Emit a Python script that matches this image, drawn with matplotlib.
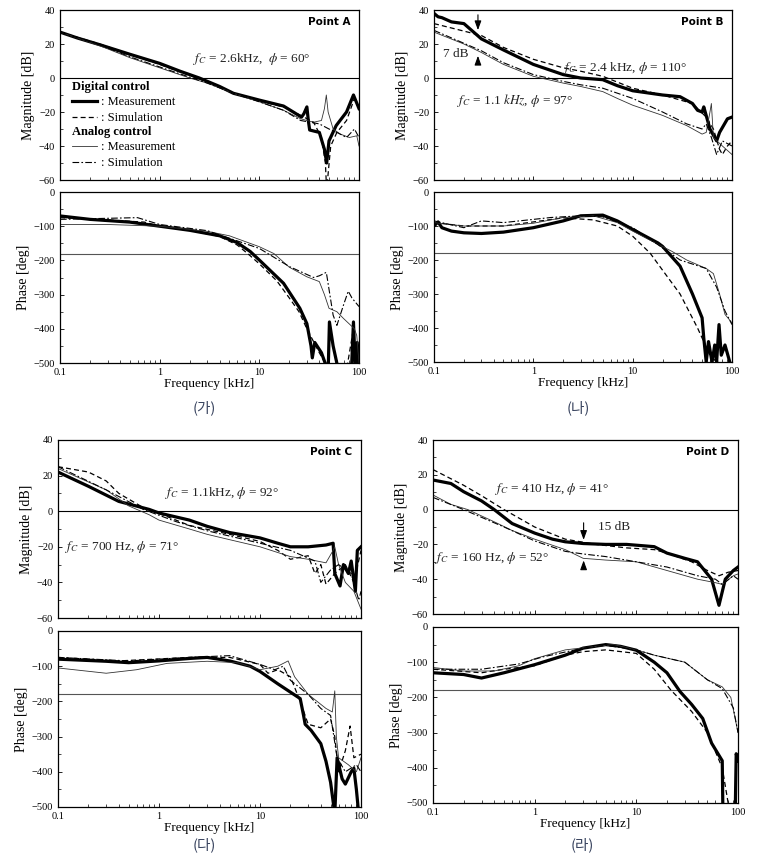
import numpy as np
import matplotlib
matplotlib.use("Agg")
import matplotlib.pyplot as plt
from matplotlib.lines import Line2D

plt.rcParams['font.family'] = ['Liberation Serif', 'DejaVu Serif']
plt.rcParams['mathtext.fontset'] = 'stix'

# ---- data: (frequency kHz, value) ----
# dm = digital measurement, ds = digital simulation,
# am = analog measurement, as = analog simulation

# Point A
A_mag_dm = [(0.1, 27), (0.15, 23.5), (0.25, 19.6), (0.5, 14), (1, 8.6), (1.6, 4), (2.5, 0), (4, -5), (5.5, -9),
            (10, -13), (17.5, -16.5), (26.5, -23), (28, -21), (30, -17), (31, -25), (32, -30.6), (40, -32),
            (45, -42), (47.4, -50), (50, -37), (59, -28), (75, -20), (88, -10), (100, -18)]
A_mag_ds = [(0.1, 27), (0.25, 20), (0.5, 14), (1, 8), (2.5, -0.5), (5.5, -9), (10, -13.5), (17.5, -17),
            (26, -22), (35, -26), (42, -35), (46, -50), (47, -62), (48, -62), (52, -40), (60, -32),
            (75, -25), (90, -12), (100, -18)]
A_mag_am = [(0.1, 27), (0.25, 19), (0.5, 12), (1, 6), (2, 0), (3, -3), (5.5, -9), (10, -14), (17.5, -19),
            (26, -24), (35, -26), (42, -25), (45, -18), (47, -10), (49, -20), (55, -30), (65, -33),
            (80, -35), (95, -34), (100, -40)]
A_mag_as = [(0.1, 27), (0.25, 19.5), (0.5, 12.5), (1, 6.5), (2, 0.5), (3, -3), (5.5, -9), (10, -14),
            (17.5, -19), (26, -25), (40, -27), (50, -30), (60, -32), (75, -35), (90, -30), (100, -35)]
A_ph_dm = [(0.1, -70), (0.2, -80), (0.5, -88), (1, -100), (2, -112), (4, -128), (6, -148), (8.1, -174),
           (10, -199), (17.5, -267), (25.5, -340), (30, -385), (33, -450), (34, -485), (36, -440),
           (42, -470), (47, -510), (49, -530), (50.5, -380), (55, -450), (62, -520), (84, -520),
           (88, -380), (92, -520), (96, -440), (100, -520)]
A_ph_ds = [(0.1, -75), (0.3, -82), (0.7, -88), (1, -100), (2, -112), (4, -130), (6, -155), (8, -185),
           (10, -210), (15, -260), (20, -310), (25, -350), (30, -400), (40, -470), (50, -520),
           (75, -520), (88, -400), (92, -520)]
A_ph_am = [(0.1, -95), (0.3, -95), (1, -100), (3, -115), (5, -128), (10, -160), (14, -180), (20, -220),
           (30, -248), (40, -262), (45, -300), (50, -340), (60, -350), (70, -370), (90, -400),
           (95, -420), (100, -500)]
A_ph_as = [(0.1, -80), (0.6, -75), (1, -95), (3, -113), (10, -165), (20, -218), (35, -250), (40, -245),
           (47, -235), (55, -360), (60, -390), (70, -330), (78, -290), (85, -310), (100, -335)]

# Point B
B_mag_dm = [(0.1, 38), (0.11, 36), (0.12, 35.5), (0.15, 33), (0.2, 32), (0.3, 23), (0.5, 16.5), (1, 8),
            (2, 2), (3, 0), (5, -1), (7, -4.5), (10, -7.5), (20, -10), (30, -11), (40, -15), (45, -19),
            (50, -20), (52, -17), (60, -30), (70, -37), (75, -32), (90, -24), (100, -23)]
B_mag_ds = [(0.1, 32), (0.3, 25), (0.5, 18), (1, 11), (2, 6), (3, 4), (5, 1), (10, -6), (20, -10),
            (40, -15), (55, -23), (65, -30), (75, -42), (80, -45), (90, -40), (100, -37)]
B_mag_am = [(0.1, 27), (0.2, 20), (0.3, 15), (0.5, 8), (1, 1), (2, -3), (3, -5), (5, -8), (7, -12),
            (10, -16), (20, -22), (35, -28), (50, -33), (55, -32), (60, -20), (62, -15), (65, -35),
            (80, -40), (100, -45)]
B_mag_as = [(0.1, 28), (0.3, 16), (0.5, 9), (1, 2), (2, -2), (3, -4), (5, -6), (10, -12), (20, -20),
            (35, -27), (50, -30), (55, -27), (62, -35), (70, -45), (80, -37), (100, -40)]
B_ph_dm = [(0.1, -100), (0.11, -88), (0.12, -105), (0.15, -115), (0.2, -120), (0.3, -122), (0.5, -118),
           (1, -105), (2, -85), (3, -70), (5, -68), (7, -85), (10, -110), (18, -150), (20, -160),
           (30, -218), (40, -300), (50, -370), (52, -430), (55, -500), (58, -440), (63, -500),
           (67, -450), (70, -500), (74, -390), (78, -480), (85, -450), (95, -500)]
B_ph_ds = [(0.1, -90), (0.2, -100), (0.5, -100), (1, -88), (2, -76), (4, -82), (7, -100), (10, -130),
           (15, -180), (20, -230), (30, -300), (45, -400), (60, -480), (70, -500)]
B_ph_am = [(0.1, -90), (0.2, -100), (0.5, -100), (1, -92), (2, -75), (4, -70), (7, -90), (10, -115),
           (17, -150), (25, -175), (35, -200), (55, -225), (65, -240), (75, -300), (85, -360),
           (100, -385)]
B_ph_as = [(0.1, -85), (0.2, -105), (0.3, -85), (0.5, -90), (1.5, -75), (3, -70), (5, -73), (10, -105),
           (18, -155), (30, -200), (55, -225), (70, -280), (85, -350), (100, -390)]

# Point C
C_mag_dm = [(0.1, 22), (0.2, 14), (0.4, 5.5), (0.8, 1), (1, -1), (2, -5), (3, -8.5), (5, -12), (10, -15),
            (15, -18), (20, -20), (30, -20), (45, -19), (53, -18), (55, -35), (62, -42), (67, -30),
            (75, -35), (80, -28), (88, -45), (92, -22), (100, -20)]
C_mag_ds = [(0.1, 25), (0.2, 22), (0.3, 17), (0.4, 10), (0.7, 2), (1.2, -3), (2, -8), (5, -13),
            (10, -17), (15, -22), (20, -27), (30, -25), (35, -35), (40, -30), (45, -41), (55, -35),
            (70, -30), (85, -40), (100, -22)]
C_mag_am = [(0.1, 24), (0.3, 12), (0.5, 3), (0.8, -2), (1, -5), (2, -10), (3, -13), (5, -16), (10, -20),
            (20, -25.5), (30, -27), (45, -29), (53, -22), (55, -20), (60, -30), (70, -40), (85, -45),
            (100, -55)]
C_mag_as = [(0.1, 25), (0.3, 12), (0.7, 1), (1.5, -6), (3, -11), (10, -18), (20, -22), (35, -28),
            (40, -40), (50, -33), (60, -30), (80, -35), (95, -50), (100, -45)]
C_ph_dm = [(0.1, -80), (0.3, -86), (0.5, -90), (1, -85), (2, -78), (3, -75), (5, -85), (8, -100),
           (10, -115), (15, -150), (18, -165), (25, -192), (27, -240), (28, -265), (32, -282),
           (40, -320), (45, -370), (50, -430), (55, -520), (58, -360), (65, -420), (70, -435),
           (80, -400), (85, -390), (90, -450), (95, -520)]
C_ph_ds = [(0.1, -75), (0.4, -85), (2, -75), (5, -75), (10, -95), (12, -120), (15, -110), (20, -130),
           (25, -200), (30, -265), (40, -275), (50, -250), (55, -300), (60, -400), (70, -340),
           (78, -270), (85, -360), (100, -350)]
C_ph_am = [(0.1, -105), (0.3, -120), (0.6, -110), (1.2, -92), (3, -86), (6, -90), (10, -110), (15, -100),
           (19, -85), (22, -130), (30, -180), (45, -220), (52, -230), (55, -170), (57, -300),
           (60, -360), (75, -380), (90, -400), (100, -360)]
C_ph_as = [(0.1, -75), (0.5, -85), (2, -75), (5, -70), (10, -95), (14, -110), (17, -100), (20, -140),
           (30, -180), (40, -220), (50, -240), (58, -360), (70, -400), (90, -380), (100, -400)]

# Point D
D_mag_dm = [(0.1, 17), (0.15, 15), (0.2, 10.3), (0.3, 5), (0.4, 0), (0.6, -8), (1, -13.5), (1.5, -17),
            (2, -18.5), (3, -19.5), (5, -20), (8, -20), (15, -21.3), (20, -25), (30, -28), (40, -30),
            (55, -40), (65, -55), (75, -40), (90, -35), (100, -33)]
D_mag_ds = [(0.1, 23), (0.2, 14), (0.3, 8), (0.5, 0), (1, -10), (2, -17), (4, -20), (8, -22), (15, -23),
            (20, -25), (35, -30), (50, -35), (65, -38), (80, -36), (100, -35)]
D_mag_am = [(0.1, 8.4), (0.15, 3), (0.22, 0), (0.4, -7), (0.6, -12), (1, -17), (2, -23), (3, -28),
            (5, -29), (10, -30), (20, -35), (40, -40), (60, -42), (70, -43), (90, -38), (100, -37)]
D_mag_as = [(0.1, 7), (0.2, 0), (0.5, -10), (1, -18), (2, -24), (3, -25.5), (5, -27), (10, -30),
            (20, -33), (40, -38), (60, -40), (70, -43), (90, -38), (100, -40)]
D_ph_dm = [(0.1, -130), (0.2, -135), (0.3, -145), (0.5, -130), (1, -107), (2, -80), (3, -60), (5, -50),
           (7, -55), (10, -66), (15, -100), (20, -130), (27, -184), (35, -220), (45, -260), (55, -330),
           (70, -380), (71, -520), (94, -520), (96, -360), (100, -380)]
D_ph_ds = [(0.1, -120), (0.3, -130), (0.5, -120), (1, -110), (2, -80), (3, -70), (5, -65), (10, -75),
           (15, -120), (22, -180), (35, -240), (50, -300), (70, -400), (80, -500)]
D_ph_am = [(0.1, -115), (0.2, -125), (0.4, -125), (0.7, -110), (1, -90), (2, -65), (4, -55), (6, -50),
           (10, -65), (15, -80), (30, -100), (50, -150), (70, -170), (85, -200), (100, -300)]
D_ph_as = [(0.1, -120), (0.3, -120), (0.7, -105), (1.2, -85), (3, -60), (5, -52), (10, -65), (15, -80),
           (30, -100), (50, -150), (70, -175), (90, -230), (100, -300)]

point_names = ["Point A", "Point B", "Point C", "Point D"]
captions = ["(가)", "(나)", "(다)", "(라)"]

# styles for the four curve types
styles = {
    "dm": dict(color="black", lw=2.3, ls="-"),
    "ds": dict(color="black", lw=0.9, ls=(0, (4, 2.5))),
    "am": dict(color="#333333", lw=0.6, ls="-"),
    "as": dict(color="black", lw=0.8, ls=(0, (6, 2, 1.5, 2))),
}

panels = [
    dict(mag=[A_mag_dm, A_mag_ds, A_mag_am, A_mag_as], ph=[A_ph_dm, A_ph_ds, A_ph_am, A_ph_as],
         mag_box=[60, 10, 359, 180], ph_box=[60, 192, 359, 363], cap=(204, 408)),
    dict(mag=[B_mag_dm, B_mag_ds, B_mag_am, B_mag_as], ph=[B_ph_dm, B_ph_ds, B_ph_am, B_ph_as],
         mag_box=[434, 10, 732, 180], ph_box=[434, 192, 732, 362], cap=(578, 408)),
    dict(mag=[C_mag_dm, C_mag_ds, C_mag_am, C_mag_as], ph=[C_ph_dm, C_ph_ds, C_ph_am, C_ph_as],
         mag_box=[58, 440, 361, 618], ph_box=[58, 631, 361, 807], cap=(204, 845)),
    dict(mag=[D_mag_dm, D_mag_ds, D_mag_am, D_mag_as], ph=[D_ph_dm, D_ph_ds, D_ph_am, D_ph_as],
         mag_box=[433, 440, 738, 614], ph_box=[433, 627, 738, 803], cap=(582, 845)),
]

W, H = 757, 859
fig = plt.figure(figsize=(W / 100, H / 100), dpi=100)


def add_ax(box):
    x0, y0, x1, y1 = box
    return fig.add_axes([x0 / W, 1 - y1 / H, (x1 - x0) / W, (y1 - y0) / H])


def style_ax(ax, ymin, ymax, major, minor, show_x):
    ax.set_xscale("log")
    ax.set_xlim(0.1, 100)
    ax.set_ylim(ymin, ymax)
    ax.set_yticks(np.arange(ymin, ymax + 1, major))
    ax.set_yticks(np.arange(ymin, ymax + 1, minor), minor=True)
    ax.set_xticks([0.1, 1, 10, 100])
    ax.tick_params(which="both", direction="in", top=False, right=False, labelsize=7.5)
    ax.tick_params(which="major", length=3, width=0.6)
    ax.tick_params(which="minor", length=2, width=0.5)
    if show_x:
        ax.set_xticklabels(["0.1", "1", "10", "100"])
        ax.set_xlabel("Frequency [kHz]", fontsize=9.5, labelpad=1)
    else:
        ax.set_xticklabels([])
    for s in ax.spines.values():
        s.set_linewidth(0.9)


keys = ["dm", "ds", "am", "as"]
mag_axes = []
for i, p in enumerate(panels):
    axm = add_ax(p["mag_box"])
    axp = add_ax(p["ph_box"])
    mag_axes.append(axm)
    axm.axhline(0, color="black", lw=0.8)
    axp.axhline(-180, color="#555555", lw=0.8)
    for k, curve in zip(keys, p["mag"]):
        f, v = zip(*curve)
        axm.plot(f, v, **styles[k])
    for k, curve in zip(keys, p["ph"]):
        f, v = zip(*curve)
        axp.plot(f, v, **styles[k])
    style_ax(axm, -60, 40, 20, 10, False)
    style_ax(axp, -500, 0, 100, 50, True)
    axm.set_ylabel("Magnitude [dB]", fontsize=10, labelpad=3)
    axp.set_ylabel("Phase [deg]", fontsize=10, labelpad=3)
    axm.text(0.97, 0.93, point_names[i], transform=axm.transAxes, ha="right", va="center",
             fontsize=7.5, fontweight="bold", family="DejaVu Sans")
    cx, cy = p["cap"]
    fig.text(cx / W, 1 - cy / H, captions[i], ha="center", va="center", fontsize=10.5,
             color="#3a4560", family=["Noto Sans CJK KR", "DejaVu Sans"])

tx = dict(fontsize=9.5, color="#222222")

# Point A annotations + legend
axA = mag_axes[0]
axA.text(0.64, 0.71, r"$f_C$ = 2.6kHz,  $\phi$ = 60°", transform=axA.transAxes, ha="center", va="center", **tx)
h_dig = [Line2D([], [], **styles["dm"]), Line2D([], [], **styles["ds"])]
h_ana = [Line2D([], [], **styles["am"]), Line2D([], [], **styles["as"])]
leg_kw = dict(loc="upper left", frameon=False, fontsize=9, handlelength=2.0, handletextpad=0.3,
              labelspacing=0.3, borderpad=0, borderaxespad=0, alignment="left",
              title_fontproperties={"weight": "bold", "size": 9, "family": "Liberation Serif"})
leg1 = axA.legend(h_dig, [": Measurement", ": Simulation"], title="Digital control",
                  bbox_to_anchor=(0.04, 0.585), **leg_kw)
axA.add_artist(leg1)
axA.legend(h_ana, [": Measurement", ": Simulation"], title="Analog control",
           bbox_to_anchor=(0.04, 0.32), **leg_kw)

# Point B annotations
axB = mag_axes[1]
axB.text(0.64, 0.66, r"$f_C$ = 2.4 kHz, $\phi$ = 110°", transform=axB.transAxes, ha="center", va="center", **tx)
axB.text(0.27, 0.47, r"$f_C$ = 1.1 $kHz$, $\phi$ = 97°", transform=axB.transAxes, ha="center", va="center", **tx)
axB.text(0.03, 0.74, "7 dB", transform=axB.transAxes, ha="left", va="center", **tx)
arr = dict(arrowstyle="-|>,head_length=0.55,head_width=0.2", color="black", lw=0.8)
axB.annotate("", xy=(0.277, 26.5), xytext=(0.277, 38.8), arrowprops=arr)
axB.annotate("", xy=(0.277, 14.7), xytext=(0.277, 7.6), arrowprops=arr)

# Point C annotations
axC = mag_axes[2]
axC.text(0.54, 0.70, r"$f_C$ = 1.1kHz, $\phi$ = 92°", transform=axC.transAxes, ha="center", va="center", **tx)
axC.text(0.21, 0.40, r"$f_C$ = 700 Hz, $\phi$ = 71°", transform=axC.transAxes, ha="center", va="center", **tx)

# Point D annotations
axD = mag_axes[3]
axD.text(0.39, 0.72, r"$f_C$ = 410 Hz, $\phi$ = 41°", transform=axD.transAxes, ha="center", va="center", **tx)
axD.text(0.195, 0.32, r"$f_C$ = 160 Hz, $\phi$ = 52°", transform=axD.transAxes, ha="center", va="center", **tx)
axD.text(0.54, 0.50, "15 dB", transform=axD.transAxes, ha="left", va="center", **tx)
axD.annotate("", xy=(3.03, -19), xytext=(3.03, -6), arrowprops=arr)
axD.annotate("", xy=(3.03, -27.6), xytext=(3.03, -34.7), arrowprops=arr)

fig.savefig("out.png", dpi=100)
